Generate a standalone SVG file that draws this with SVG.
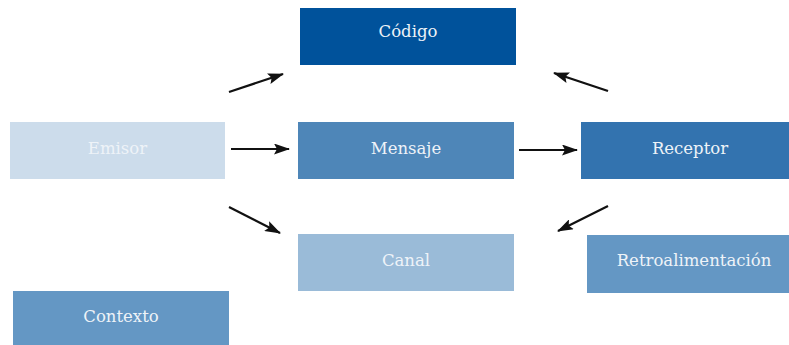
<svg xmlns="http://www.w3.org/2000/svg" width="789" height="345" viewBox="0 0 789 345">
<style>
.lbl{font-family:"DejaVu Serif","Liberation Serif",serif;font-size:16.5px;fill:#EEF3F8;text-anchor:middle}
.con line{stroke:#111;stroke-width:2.2;marker-end:url(#ah)}
</style>
<defs>
<marker id="ah" viewBox="0 0 16 11" refX="15" refY="5.5" markerWidth="16" markerHeight="11" markerUnits="userSpaceOnUse" orient="auto">
<path d="M0,0 L16,5.5 L0,11 L3,5.5 Z" fill="#111"/>
</marker>
</defs>
<rect width="789" height="345" fill="#fff"/>
<g id="codigo"><rect x="300" y="8" width="216" height="57" fill="#00529B"/><text class="lbl" x="408" y="37">Código</text></g>
<g id="emisor"><rect x="10" y="122" width="215" height="57" fill="#CCDCEB"/><text class="lbl" x="117.5" y="154">Emisor</text></g>
<g id="mensaje"><rect x="298" y="122" width="216" height="57" fill="#4E86B8"/><text class="lbl" x="406" y="154">Mensaje</text></g>
<g id="receptor"><rect x="581" y="122" width="208" height="57" fill="#3373AF"/><text class="lbl" x="690" y="154">Receptor</text></g>
<g id="canal"><rect x="298" y="234" width="216" height="57" fill="#9ABBD8"/><text class="lbl" x="406" y="266">Canal</text></g>
<g id="retroalimentacion"><rect x="587" y="235" width="202" height="58" fill="#6497C4"/><text class="lbl" x="694" y="266">Retroalimentación</text></g>
<g id="contexto"><rect x="13" y="291" width="216" height="54" fill="#6497C4"/><text class="lbl" x="121" y="322">Contexto</text></g>
<g id="connectors" class="con">
<line x1="229" y1="92" x2="283" y2="74"/>
<line x1="231" y1="149" x2="289" y2="149"/>
<line x1="519" y1="150" x2="577" y2="150"/>
<line x1="608" y1="91" x2="554" y2="73"/>
<line x1="229" y1="207" x2="280" y2="233"/>
<line x1="608" y1="206" x2="558" y2="231"/>
</g>
</svg>
